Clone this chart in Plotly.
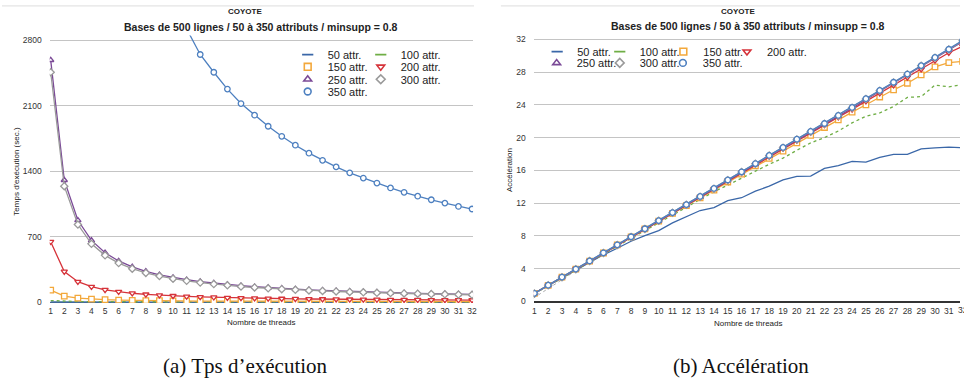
import plotly.graph_objects as go

threads = list(range(1, 33))
series_names = ["50 attr.", "100 attr.", "150 attr.", "200 attr.", "250 attr.", "300 attr.", "350 attr."]

# (a) execution time (sec.)
t50 = [2.2, 1.2, 0.8, 0.6, 0.5, 0.4, 0.35, 0.3, 0.27, 0.25, 0.23, 0.21, 0.2, 0.19, 0.18, 0.17,
       0.16, 0.16, 0.15, 0.14, 0.14, 0.14, 0.13, 0.13, 0.13, 0.13, 0.12, 0.12, 0.12, 0.12, 0.12, 0.12]
t100 = [16, 8.4, 5.6, 4.2, 3.4, 2.8, 2.4, 2.1, 1.9, 1.7, 1.55, 1.4, 1.3, 1.2, 1.12, 1.05,
        1.0, 0.95, 0.9, 0.86, 0.82, 0.79, 0.76, 0.73, 0.7, 0.69, 0.67, 0.64, 0.64, 0.61, 0.61, 0.6]
t150 = [127, 64, 43, 32, 26, 21.5, 18.4, 16.1, 14.3, 12.9, 11.8, 10.8, 10.0, 9.3, 8.7, 8.2,
        7.7, 7.3, 6.9, 6.6, 6.3, 6.0, 5.7, 5.5, 5.3, 5.1, 4.9, 4.8, 4.6, 4.4, 4.4, 4.3]
t200 = [645, 326, 218, 164, 131, 110, 94, 82, 73, 66, 60, 55, 51, 47, 44, 41,
        38.5, 36.4, 34.5, 32.8, 31.3, 29.9, 28.6, 27.4, 26.3, 25.3, 24.4, 23.5, 22.7, 22.0, 21.3, 20.7]
t250 = [2590, 1305, 875, 660, 527, 440, 376, 329, 292, 263, 239, 219, 202, 188, 175, 164,
        154, 146, 138, 131, 125, 119, 114, 109, 105, 101, 97, 93, 90, 87, 85, 82]
t300 = [2460, 1240, 830, 623, 500, 417, 357, 312, 278, 250, 227, 208, 192, 179, 166, 156,
        147, 138, 131, 124, 119, 113, 108, 104, 99, 96, 92, 89, 86, 83, 80, 78]
t350 = [31700, 16000, 10670, 8030, 6430, 5350, 4590, 4020, 3580, 3220, 2925, 2650, 2460, 2280, 2125, 2000,
        1882, 1774, 1679, 1594, 1517, 1447, 1383, 1327, 1274, 1222, 1175, 1133, 1095, 1059, 1024, 996]

# (b) speed-up
s50 = [1.0, 1.95, 2.95, 3.85, 4.8, 5.7, 6.5, 7.35, 8.05, 8.65, 9.6, 10.4, 11.1, 11.45, 12.3, 12.66,
       13.46, 14.07, 14.83, 15.27, 15.3, 16.23, 16.59, 17.1, 17.0, 17.59, 17.95, 17.95, 18.63, 18.75, 18.83, 18.75]
s100 = [0.95, 1.9, 2.9, 3.85, 4.8, 5.8, 6.75, 7.7, 8.6, 9.55, 10.5, 11.4, 12.35, 13.4, 14.2, 15.1,
        15.9, 16.75, 17.5, 18.45, 19.35, 20.0, 20.8, 21.8, 22.6, 23.0, 23.8, 24.9, 25.0, 26.4, 26.2, 26.45]
s150 = [1.0, 1.98, 2.97, 3.95, 4.93, 5.92, 6.9, 7.88, 8.85, 9.8, 10.75, 11.7, 12.65, 13.6, 14.58, 15.55,
        16.54, 17.47, 18.35, 19.35, 20.27, 21.23, 22.15, 23.1, 24.0, 24.95, 25.83, 26.63, 27.64, 28.63, 29.15, 29.3]
s200 = [1.0, 1.98, 2.97, 3.95, 4.93, 5.92, 6.9, 7.88, 8.86, 9.83, 10.8, 11.77, 12.75, 13.73, 14.75, 15.73,
        16.72, 17.7, 18.68, 19.66, 20.62, 21.55, 22.5, 23.45, 24.45, 25.42, 26.38, 27.35, 28.35, 29.4, 30.35, 31.15]
s250 = [0.97, 1.96, 2.95, 3.93, 4.92, 5.9, 6.88, 7.86, 8.84, 9.82, 10.8, 11.76, 12.75, 13.73, 14.76, 15.75,
        16.76, 17.75, 18.72, 19.72, 20.67, 21.64, 22.62, 23.6, 24.66, 25.66, 26.66, 27.66, 28.68, 29.68, 30.68, 31.7]
s300 = [0.99, 1.98, 2.97, 3.95, 4.94, 5.92, 6.9, 7.88, 8.86, 9.85, 10.83, 11.8, 12.79, 13.77, 14.8, 15.8,
        16.8, 17.8, 18.77, 19.77, 20.72, 21.69, 22.67, 23.65, 24.72, 25.72, 26.72, 27.72, 28.75, 29.75, 30.75, 31.8]
s350 = [1.0, 1.99, 2.98, 3.96, 4.95, 5.94, 6.92, 7.9, 8.88, 9.87, 10.85, 11.82, 12.82, 13.8, 14.83, 15.82,
        16.83, 17.82, 18.8, 19.8, 20.75, 21.72, 22.7, 23.68, 24.75, 25.75, 26.75, 27.75, 28.78, 29.78, 30.78, 31.85]
trend_x = [0.55, 4.0]
trend_y = [0.0, 3.75]

time_ticks = [0, 700, 1400, 2100, 2800]
speed_ticks = [0, 4, 8, 12, 16, 20, 24, 28, 32]

colors = ["#3a67a8", "#6fae45", "#f3a83b", "#d6333a", "#7b4a97", "#9a9a9a", "#4e80c0"]
symbols = [None, None, "square", "triangle-down", "triangle-up", "diamond", "circle"]
dashes = ["solid", "dot", "solid", "solid", "solid", "solid", "solid"]

W, H = 964, 381
FONT = "Liberation Sans, Arial, sans-serif"

def px(x):
    return x / W

def py(y):
    return 1 - y / H

# legend key (symbol) centre positions in pixels; text follows 20 px to the right
left_leg_pos = [(307.5, 54.3), (381, 54.3), (307.5, 66.7), (381, 66.7), (307.5, 79.3), (381, 79.3), (307.5, 91.7)]
right_leg_pos = [(558.5, 51.3), (621.5, 51.3), (685.5, 51.3), (749.5, 51.3), (558, 62.7), (621.5, 62.7), (685, 62.7)]

# right x axis geometry (the chart is cut off at the window edge, like the original)
X2_DOMAIN_PX = (535, 964)
X2_RANGE = (0.95, 31.81)

fig = go.Figure()
legend_layouts = {}
leg_font = dict(family=FONT, size=11, color="#222222")

def new_legend(pos):
    n = len(legend_layouts) + 1
    name = "legend" if n == 1 else f"legend{n}"
    legend_layouts[name] = dict(orientation="v", x=px(pos[0] - 20), y=py(pos[1]),
                                xanchor="left", yanchor="middle", bgcolor="rgba(0,0,0,0)",
                                font=leg_font)
    return name

def add_series(ys, i, xa, ya, pos):
    mode = "lines+markers" if symbols[i] else "lines"
    marker = dict(symbol=symbols[i], size=5.5, color="white",
                  line=dict(color=colors[i], width=1.3)) if symbols[i] else None
    fig.add_trace(go.Scatter(
        x=threads, y=ys, name=series_names[i], mode=mode,
        line=dict(color=colors[i], width=1.3, dash=dashes[i]),
        marker=marker, xaxis=xa, yaxis=ya, showlegend=False, hoverinfo="skip"))
    # legend key: short symbol like the original chart
    if symbols[i]:
        key_marker = dict(symbol=symbols[i], size=6.8, color="white",
                          line=dict(color=colors[i], width=1.6))
    else:
        key_marker = dict(symbol="line-ew", size=8, line=dict(color=colors[i], width=1.6))
    fig.add_trace(go.Scatter(
        x=[None], y=[None], name=series_names[i], mode="markers", marker=key_marker,
        xaxis=xa, yaxis=ya, legend=new_legend(pos), showlegend=True, hoverinfo="skip"))

for i, ys in enumerate([t50, t100, t150, t200, t250, t300, t350]):
    add_series(ys, i, "x", "y", left_leg_pos[i])

fig.add_trace(go.Scatter(x=trend_x, y=trend_y, mode="lines", showlegend=False,
                         line=dict(color="#aaaaaa", width=1, dash="dot"),
                         xaxis="x2", yaxis="y2", hoverinfo="skip"))
for i, ys in enumerate([s50, s100, s150, s200, s250, s300, s350]):
    add_series(ys, i, "x2", "y2", right_leg_pos[i])

tickfont = dict(family=FONT, size=8.5, color="#333333")
grid = "#c4c4c4"

fig.update_layout(
    width=W, height=H, margin=dict(l=0, r=0, t=0, b=0),
    paper_bgcolor="white", plot_bgcolor="white",
    font=dict(family=FONT, color="#222222"),
    xaxis=dict(domain=[px(48), px(474)], range=[0.927, 32.073], tickmode="array", tickvals=threads,
               showgrid=False, zeroline=False, showline=False, tickfont=tickfont,
               ticks="", ticklabelstandoff=2, anchor="y"),
    yaxis=dict(domain=[py(306), py(35)], range=[-10, 2853], tickmode="array", tickvals=time_ticks,
               showgrid=True, gridcolor=grid, gridwidth=1.2, zeroline=True, zerolinecolor="#4a6a8a",
               zerolinewidth=1.3, tickfont=tickfont, ticks="", ticklabelstandoff=7, anchor="x"),
    xaxis2=dict(domain=[px(X2_DOMAIN_PX[0]), px(X2_DOMAIN_PX[1])], range=list(X2_RANGE),
                tickmode="array", tickvals=threads,
                showgrid=False, zeroline=False, showline=False, tickfont=tickfont,
                ticks="", ticklabelstandoff=2, anchor="y2"),
    yaxis2=dict(domain=[py(306), py(35)], range=[-0.18, 32.45], tickmode="array", tickvals=speed_ticks,
                showgrid=True, gridcolor=grid, gridwidth=1.2, zeroline=True, zerolinecolor="#333333",
                zerolinewidth=1.6, tickfont=tickfont, ticks="", ticklabelstandoff=7, anchor="x2"),
    **legend_layouts,
)

def ann(text, x, y, size, bold=False, angle=0, family=FONT, color="#222222"):
    fig.add_annotation(text=f"<b>{text}</b>" if bold else text, x=px(x), y=py(y),
                       xref="paper", yref="paper", xanchor="center", yanchor="middle",
                       showarrow=False, textangle=angle,
                       font=dict(family=family, size=size, color=color))

subtitle = "Bases de 500 lignes / 50 à 350 attributs / minsupp = 0.8"
ann("COYOTE", 244.5, 11, 8, bold=True)
ann(subtitle, 260.5, 26, 10.5, bold=True)
ann("COYOTE", 741, 11, 8, bold=True)
ann(subtitle, 751, 25, 10.5, bold=True)
ann("Temps d'exécution (sec.)", 15, 172, 8, angle=-90)
ann("Accélération", 510, 171.5, 8, angle=-90)
ann("Nombre de threads", 261, 326, 8)
ann("Nombre de threads", 751, 327, 8)
SERIF = "Liberation Serif, Times New Roman, serif"
ann("(a) Tps d’exécution", 245, 370, 21, family=SERIF, color="#111111")
ann("(b) Accélération", 744, 370, 21, family=SERIF, color="#111111")

# last tick label of the right chart lies beyond the window edge and is cut, as in the original
last = threads[-1]
x_last_px = X2_DOMAIN_PX[0] + (last - X2_RANGE[0]) / (X2_RANGE[1] - X2_RANGE[0]) * (X2_DOMAIN_PX[1] - X2_DOMAIN_PX[0])
fig.add_annotation(text=str(last), x=px(x_last_px), y=py(313.5), xref="paper", yref="paper",
                   xanchor="center", yanchor="middle", showarrow=False, font=tickfont)

fig.add_shape(type="line", xref="paper", yref="paper", x0=0, x1=px(475), y0=py(5), y1=py(5),
              line=dict(color="#dddddd", width=1))
fig.add_shape(type="line", xref="paper", yref="paper", x0=px(502), x1=1, y0=py(5), y1=py(5),
              line=dict(color="#dddddd", width=1))

fig.write_html("out.html", config={"displayModeBar": False},
               post_script="document.body.style.margin='0px';")
